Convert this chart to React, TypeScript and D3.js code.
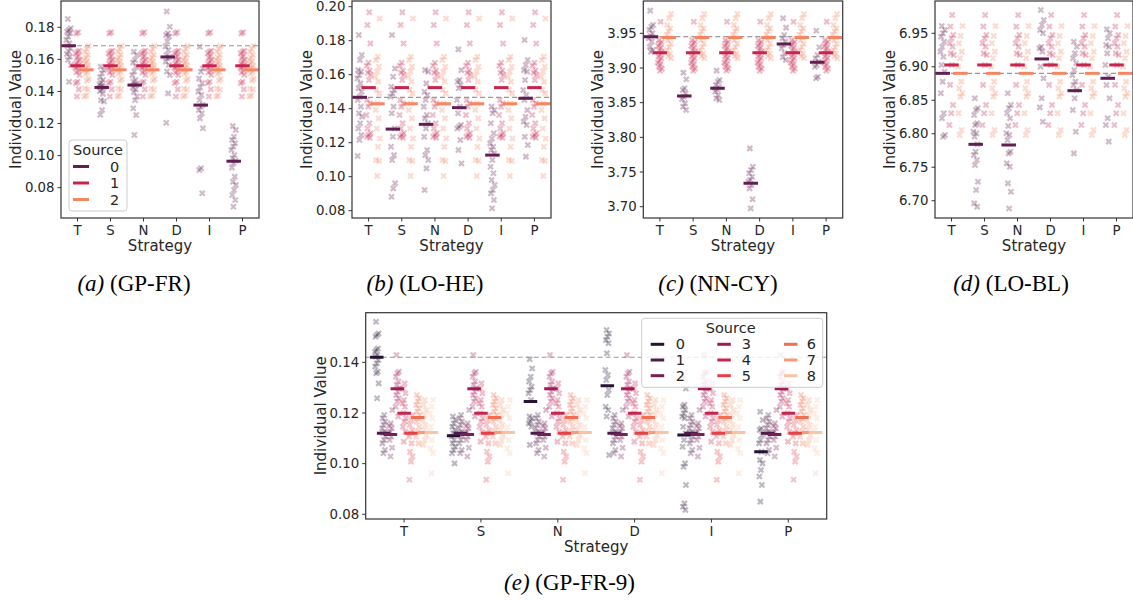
import React from "react";
import * as d3 from "d3";

const STRATEGIES = ["T", "S", "N", "D", "I", "P"];

// ---------- (a) GP-FR ----------
const gpfrSource0: number[][] = [
  [0.1852, 0.1794, 0.1783, 0.1773, 0.1763, 0.1742, 0.1721, 0.170, 0.1684, 0.1669, 0.1648, 0.1634, 0.1617, 0.1596, 0.1565, 0.1461],
  [0.1555, 0.1534, 0.1513, 0.1488, 0.1472, 0.1455, 0.1445, 0.1434, 0.1428, 0.1422, 0.1413, 0.1401, 0.1385, 0.1345, 0.1338, 0.1284, 0.1255],
  [0.1648, 0.1627, 0.1596, 0.158, 0.1555, 0.1524, 0.1502, 0.1472, 0.1461, 0.1445, 0.144, 0.1425, 0.1412, 0.1395, 0.1368, 0.1345, 0.1295, 0.1253, 0.1128],
  [0.1898, 0.1804, 0.1763, 0.1752, 0.1742, 0.1711, 0.168, 0.1659, 0.1627, 0.1615, 0.1607, 0.1586, 0.1565, 0.1524, 0.1503, 0.1388, 0.1205],
  [0.1679, 0.1544, 0.1523, 0.148, 0.1451, 0.1426, 0.1399, 0.1378, 0.1347, 0.1316, 0.1304, 0.1284, 0.1263, 0.1232, 0.117, 0.0921, 0.091, 0.0765],
  [0.1185, 0.116, 0.1118, 0.1097, 0.1077, 0.1056, 0.1035, 0.1004, 0.0983, 0.0968, 0.0952, 0.0925, 0.0869, 0.0837, 0.0817, 0.0786, 0.0754, 0.0723, 0.0681],
];
const gpfrSource1 = [0.1769, 0.1762, 0.1654, 0.1648, 0.1638, 0.1621, 0.1612, 0.1596, 0.1585, 0.1575, 0.1562, 0.1555, 0.1548, 0.153, 0.1518, 0.1503, 0.1461, 0.1452, 0.1413, 0.1368];
const gpfrSource2 = [0.1684, 0.1665, 0.1648, 0.1628, 0.1612, 0.1598, 0.1586, 0.1572, 0.156, 0.1545, 0.1535, 0.1522, 0.151, 0.1478, 0.1468, 0.1418, 0.1412, 0.1375, 0.1368];
const gpfrLine0 = [0.1685, 0.1425, 0.144, 0.1615, 0.1315, 0.0965];
const gpfrLineOthers = [0.156, 0.1535];
const gpfrReference = 0.1685;
const gpfrTicks = [0.08, 0.1, 0.12, 0.14, 0.16, 0.18];

// ---------- (b) LO-HE ----------
const loheSource0: number[][] = [
  [0.1833, 0.1716, 0.1686, 0.1627, 0.1618, 0.1598, 0.1578, 0.1549, 0.152, 0.15, 0.147, 0.1451, 0.1412, 0.1373, 0.1353, 0.1314, 0.1284, 0.1245, 0.1216, 0.1122],
  [0.1833, 0.1637, 0.1588, 0.1529, 0.151, 0.149, 0.1471, 0.1412, 0.1373, 0.1284, 0.1235, 0.1176, 0.1127, 0.1098, 0.0961, 0.0931, 0.0882],
  [0.1627, 0.1618, 0.1549, 0.15, 0.148, 0.1451, 0.1412, 0.1363, 0.1343, 0.1314, 0.1284, 0.1235, 0.1157, 0.1127, 0.1098, 0.1049, 0.0922],
  [0.1749, 0.1627, 0.1569, 0.1559, 0.1539, 0.152, 0.1451, 0.1412, 0.1373, 0.1304, 0.1294, 0.1284, 0.1216, 0.1157, 0.1078],
  [0.1412, 0.1392, 0.1373, 0.1314, 0.1255, 0.1225, 0.1196, 0.1176, 0.1157, 0.1137, 0.1098, 0.1059, 0.102, 0.098, 0.0951, 0.0922, 0.0902, 0.0863, 0.0814],
  [0.1804, 0.1686, 0.1657, 0.1627, 0.1618, 0.1569, 0.151, 0.148, 0.1451, 0.1392, 0.1353, 0.1324, 0.1304, 0.1235, 0.1186, 0.1118],
];
const loheSource1 = [0.1967, 0.1892, 0.1784, 0.167, 0.1653, 0.1625, 0.1612, 0.1598, 0.1569, 0.1451, 0.1431, 0.1412, 0.1363, 0.1314, 0.1284, 0.1255, 0.1245, 0.1235, 0.1229];
const loheSource2 = [0.1931, 0.1706, 0.1686, 0.1647, 0.1618, 0.1588, 0.1559, 0.151, 0.149, 0.1431, 0.1392, 0.1343, 0.1284, 0.1225, 0.1176, 0.1098, 0.1092, 0.1004];
const loheLine0 = [0.1467, 0.128, 0.1308, 0.1406, 0.1127, 0.1461];
const loheLineOthers = [0.1524, 0.1429];
const loheReference = 0.1467;
const loheTicks = [0.08, 0.1, 0.12, 0.14, 0.16, 0.18, 0.2];

// ---------- (c) NN-CY ----------
const nncySource0: number[][] = [
  [3.9827, 3.962, 3.9596, 3.955, 3.95, 3.9462, 3.9428, 3.938, 3.9308, 3.926, 3.9236],
  [3.8933, 3.8837, 3.8707, 3.8683, 3.8635, 3.8587, 3.855, 3.849, 3.8442, 3.8394],
  [3.8962, 3.8827, 3.8803, 3.8755, 3.8721, 3.8692, 3.8659, 3.8611, 3.8562, 3.8538],
  [3.7841, 3.7577, 3.7529, 3.7481, 3.7433, 3.7385, 3.7361, 3.7313, 3.7264, 3.7106, 3.6976],
  [3.9716, 3.9582, 3.9476, 3.9428, 3.938, 3.9332, 3.9284, 3.9212, 3.9154, 3.9115],
  [3.9538, 3.9298, 3.9188, 3.914, 3.9091, 3.9043, 3.9019, 3.8875, 3.8851],
];
const nncySource1 = [3.9668, 3.9404, 3.9375, 3.935, 3.932, 3.929, 3.926, 3.923, 3.92, 3.917, 3.914, 3.911, 3.908, 3.905, 3.902, 3.899, 3.896];
const nncySource2 = [3.9779, 3.9716, 3.962, 3.957, 3.953, 3.948, 3.944, 3.94, 3.935, 3.93, 3.926, 3.921, 3.917, 3.914];
const nncyLine0 = [3.9452, 3.8596, 3.8707, 3.7337, 3.9346, 3.9082];
const nncyLineOthers = [3.9221, 3.9438];
const nncyReference = 3.9452;
const nncyTicks = [3.7, 3.75, 3.8, 3.85, 3.9, 3.95];

// ---------- (d) LO-BL ----------
const loblSource0: number[][] = [
  [6.961, 6.955, 6.95, 6.945, 6.9375, 6.93, 6.9226, 6.9151, 6.9027, 6.8927, 6.8778, 6.8604, 6.8305, 6.823, 6.7981, 6.7956],
  [6.8529, 6.838, 6.8355, 6.828, 6.8155, 6.813, 6.8031, 6.8006, 6.7956, 6.7842, 6.7732, 6.7682, 6.7608, 6.7533, 6.7284, 6.7159, 6.696, 6.691],
  [6.8604, 6.8429, 6.838, 6.8305, 6.823, 6.8116, 6.8006, 6.7981, 6.7906, 6.7732, 6.7707, 6.7558, 6.7508, 6.7259, 6.7134, 6.6885],
  [6.9849, 6.9699, 6.9625, 6.955, 6.95, 6.93, 6.9276, 6.9226, 6.9002, 6.8828, 6.8529, 6.8394, 6.818],
  [6.9375, 6.93, 6.92, 6.9127, 6.9052, 6.8952, 6.8877, 6.8778, 6.8728, 6.8653, 6.8529, 6.8355, 6.8031, 6.7707],
  [6.956, 6.95, 6.9425, 6.9326, 6.93, 6.92, 6.9027, 6.8853, 6.8728, 6.8529, 6.823, 6.813, 6.7882],
];
const loblSource1 = [6.9774, 6.96, 6.9475, 6.9425, 6.935, 6.93, 6.92, 6.9175, 6.9027, 6.873, 6.8429, 6.8305, 6.813];
const loblSource2 = [6.961, 6.946, 6.935, 6.9226, 6.9127, 6.9002, 6.8778, 6.8678, 6.8604, 6.8554, 6.8305, 6.8056, 6.7981];
const loblLine0 = [6.8902, 6.7842, 6.7832, 6.9117, 6.8643, 6.8828];
const loblLineOthers = [6.9027, 6.8902];
const loblReference = 6.8902;
const loblTicks = [6.7, 6.75, 6.8, 6.85, 6.9, 6.95];

// ---------- (e) GP-FR-9 ----------
const gpfr9Source0: number[][] = [
  [0.156, 0.1514, 0.1508, 0.1501, 0.1455, 0.1449, 0.1442, 0.1429, 0.1422, 0.1409, 0.1396, 0.1383, 0.1363, 0.1357, 0.1317, 0.1258],
  [0.1186, 0.1172, 0.1159, 0.1146, 0.1133, 0.112, 0.1107, 0.1093, 0.108, 0.1067, 0.1054, 0.1041, 0.1001],
  [0.1412, 0.1376, 0.1343, 0.1324, 0.1304, 0.1291, 0.1278, 0.1251, 0.1186, 0.1179, 0.1166, 0.1159, 0.1146, 0.1074],
  [0.1528, 0.1514, 0.1501, 0.1488, 0.1475, 0.1436, 0.137, 0.135, 0.133, 0.1291, 0.1271, 0.1225, 0.1212, 0.1186, 0.1034],
  [0.1337, 0.1297, 0.1232, 0.1225, 0.1212, 0.1199, 0.1186, 0.1179, 0.1146, 0.112, 0.1093, 0.1067, 0.1001, 0.0988, 0.0916, 0.0843, 0.083, 0.0817],
  [0.1205, 0.1172, 0.1139, 0.1133, 0.1113, 0.1093, 0.108, 0.1047, 0.1014, 0.1001, 0.0975, 0.0949, 0.0916, 0.085],
];
const gpfr9Source1 = [0.1192, 0.1179, 0.1166, 0.1153, 0.114, 0.1126, 0.112, 0.1107, 0.1093, 0.108, 0.1054, 0.1041];
const gpfr9Source2 = [0.1212, 0.1159, 0.1149, 0.114, 0.1126, 0.112, 0.1107, 0.1093, 0.1063, 0.1028];
const gpfr9Source3 = [0.1429, 0.1363, 0.1357, 0.1343, 0.1324, 0.1311, 0.1297, 0.1284, 0.1271, 0.1258, 0.1245, 0.1225, 0.1186];
const gpfr9Source4 = [0.1317, 0.1297, 0.1278, 0.1251, 0.1238, 0.1225, 0.1199, 0.1179, 0.1166, 0.1146, 0.1126, 0.1087];
const gpfr9Source5 = [0.1192, 0.1172, 0.1153, 0.1133, 0.112, 0.1107, 0.108, 0.1047, 0.1028, 0.1008, 0.0936];
const gpfr9Source6 = [0.1271, 0.1258, 0.1245, 0.1232, 0.1219, 0.1205, 0.1192, 0.1179, 0.1166, 0.1146, 0.1126, 0.1107, 0.108];
const gpfr9Source7 = [0.1251, 0.1232, 0.1212, 0.1192, 0.1172, 0.1153, 0.1133, 0.1113, 0.1093, 0.1074];
const gpfr9Source8 = [0.1251, 0.1225, 0.1199, 0.1179, 0.1146, 0.1126, 0.1093, 0.106, 0.1041, 0.0962];
const gpfr9Line0 = [0.142, 0.111, 0.1245, 0.1308, 0.1113, 0.1047];
const gpfr9LineOthers = [0.112, 0.1115, 0.1296, 0.1199, 0.112, 0.1182, 0.1123, 0.1123];
const gpfr9Reference = 0.142;
const gpfr9Ticks = [0.08, 0.1, 0.12, 0.14];

const SOURCES3 = ["0", "1", "2"];
const SOURCES9 = ["0", "1", "2", "3", "4", "5", "6", "7", "8"];

// rocket colormap anchors
const ROCKET = ["#03051a", "#35193e", "#701f57", "#ad1759", "#e13342", "#f37651", "#f6b48f", "#faebdd"];
const rocket = d3
  .scaleLinear<string>()
  .domain(ROCKET.map((_, i) => i / (ROCKET.length - 1)))
  .range(ROCKET)
  .interpolate(d3.interpolateRgb);
const palette = (n: number) => d3.range(n).map((i) => rocket((i + 1) / (n + 1)));

const FONT = "DejaVu Sans, sans-serif";
const TEXT = "#262626";

type Layout = {
  left: number;
  right: number;
  top: number;
  bottom: number;
  domain: [number, number];
  jitter: number;
  lineLen: number;
  caption: [string, string];
  capX: number;
  capY: number;
};

type PanelProps = {
  layout: Layout;
  src0: number[][];
  others: number[][];
  line0: number[];
  lineOthers: number[];
  reference: number;
  ticks: number[];
  fmt: (v: number) => string;
  sources: string[];
  legend?: "a" | "e";
};

const markerPath = (s: number) => `M${-s},${-s}L${s},${s}M${-s},${s}L${s},${-s}`;

function Panel({ layout, src0, others, line0, lineOthers, reference, ticks, fmt, sources, legend }: PanelProps) {
  const { left, right, top, bottom, domain, jitter, lineLen } = layout;
  const colors = palette(sources.length);
  const x = d3.scaleBand<string>().domain(STRATEGIES).range([left, right]);
  const y = d3.scaleLinear().domain(domain).range([bottom, top]);
  const bw = x.bandwidth();
  const dodge = bw * 0.8;
  const n = sources.length;
  const off = (i: number) => -dodge / 2 + (dodge / n) * (i + 0.5);
  const cx = (s: string) => (x(s) as number) + bw / 2;
  const jit = (k: number) => (((k * 0.6180339887 + 0.31) % 1) - 0.5) * 2 * jitter;

  const points: JSX.Element[] = [];
  const lines: JSX.Element[] = [];
  STRATEGIES.forEach((s, si) => {
    sources.forEach((_, i) => {
      const vals = i === 0 ? src0[si] : others[i - 1];
      const xc = cx(s) + off(i);
      vals.forEach((v, k) => {
        points.push(
          <path
            key={`p-${si}-${i}-${k}`}
            d={markerPath(2.5)}
            transform={`translate(${xc + jit(k + i * 7)},${y(v)})`}
            stroke={colors[i]}
            strokeWidth={2.2}
            strokeOpacity={0.3}
            fill="none"
          />
        );
      });
      const lv = i === 0 ? line0[si] : lineOthers[i - 1];
      lines.push(
        <line
          key={`l-${si}-${i}`}
          x1={xc - lineLen / 2}
          x2={xc + lineLen / 2}
          y1={y(lv)}
          y2={y(lv)}
          stroke={colors[i]}
          strokeWidth={3}
        />
      );
    });
  });

  const midY = (top + bottom) / 2;
  return (
    <g>
      <defs>
        <clipPath id={`clip-${Math.round(left)}`}>
          <rect x={left} y={top} width={right - left} height={bottom - top} />
        </clipPath>
      </defs>
      <g clipPath={`url(#clip-${Math.round(left)})`}>
        {points}
        <line x1={left} x2={right} y1={y(reference)} y2={y(reference)} stroke="#999" strokeWidth={1.2} strokeDasharray="5,3" />
        {lines}
      </g>
      <rect x={left} y={top} width={right - left} height={bottom - top} fill="none" stroke="#333" strokeWidth={1.2} />
      {ticks.map((t) => (
        <g key={`yt-${t}`}>
          <line x1={left - 3.5} x2={left} y1={y(t)} y2={y(t)} stroke="#333" strokeWidth={1} />
          <text x={left - 6.5} y={y(t) + 4.7} textAnchor="end" fontFamily={FONT} fontSize={13.3} fill={TEXT}>
            {fmt(t)}
          </text>
        </g>
      ))}
      {STRATEGIES.map((s) => (
        <g key={`xt-${s}`}>
          <line x1={cx(s)} x2={cx(s)} y1={bottom} y2={bottom + 3.5} stroke="#333" strokeWidth={1} />
          <text x={cx(s)} y={bottom + 17} textAnchor="middle" fontFamily={FONT} fontSize={13.3} fill={TEXT}>
            {s}
          </text>
        </g>
      ))}
      <text x={(left + right) / 2} y={bottom + 33} textAnchor="middle" fontFamily={FONT} fontSize={15} fill={TEXT}>
        Strategy
      </text>
      <text
        transform={`translate(${left - 40},${midY}) rotate(-90)`}
        textAnchor="middle"
        fontFamily={FONT}
        fontSize={15}
        fill={TEXT}
      >
        Individual Value
      </text>
      {legend === "a" && (
        <g>
          <rect x={69} y={140} width={58} height={71} rx={3} fill="#fff" fillOpacity={0.8} stroke="#ccc" />
          <text x={98} y={154.5} textAnchor="middle" fontFamily={FONT} fontSize={14.5} fill={TEXT}>
            Source
          </text>
          {sources.map((src, i) => {
            const cy = 166.5 + i * 16.5;
            return (
              <g key={`lg-${src}`}>
                <line x1={73} x2={89} y1={cy} y2={cy} stroke={colors[i]} strokeWidth={3} />
                <text x={110} y={cy + 5.2} fontFamily={FONT} fontSize={14.5} fill={TEXT}>
                  {src}
                </text>
              </g>
            );
          })}
        </g>
      )}
      {legend === "e" && (
        <g>
          <rect x={641.7} y={318.3} width={181} height={69} rx={3} fill="#fff" fillOpacity={0.8} stroke="#ccc" />
          <text x={730.7} y={332.5} textAnchor="middle" fontFamily={FONT} fontSize={14.5} fill={TEXT}>
            Source
          </text>
          {sources.map((src, i) => {
            const col = Math.floor(i / 3);
            const row = i % 3;
            const hx = [650.7, 717.3, 784][col];
            const tx = [675.7, 741.7, 806.7][col];
            const cy = 344.3 + row * 15.7;
            return (
              <g key={`lg-${src}`}>
                <line x1={hx} x2={hx + 13.5} y1={cy} y2={cy} stroke={colors[i]} strokeWidth={3} />
                <text x={tx} y={cy + 5} fontFamily={FONT} fontSize={14.5} fill={TEXT}>
                  {src}
                </text>
              </g>
            );
          })}
        </g>
      )}
      <text x={layout.capX} y={layout.capY} textAnchor="middle" fontFamily="Liberation Serif, Times New Roman, serif" fontSize={23} fill="#000">
        <tspan fontStyle="italic">{layout.caption[0]}</tspan>
        <tspan>{" " + layout.caption[1]}</tspan>
      </text>
    </g>
  );
}

const f2 = d3.format(".2f");

export default function App() {
  return (
    <svg width={1133} height={601} style={{ position: "absolute", left: 0, top: 0, background: "#fff" }}>
      <rect width={1133} height={601} fill="#fff" />
      <Panel
        layout={{ left: 61, right: 259, top: 1, bottom: 218, domain: [0.0611, 0.1964], jitter: 2.4, lineLen: 14.5, caption: ["(a)", "(GP-FR)"], capX: 134, capY: 291 }}
        src0={gpfrSource0}
        others={[gpfrSource1, gpfrSource2]}
        line0={gpfrLine0}
        lineOthers={gpfrLineOthers}
        reference={gpfrReference}
        ticks={gpfrTicks}
        fmt={f2}
        sources={SOURCES3}
        legend="a"
      />
      <Panel
        layout={{ left: 352, right: 551, top: 1, bottom: 218, domain: [0.0757, 0.20335], jitter: 2.4, lineLen: 14.5, caption: ["(b)", "(LO-HE)"], capX: 425, capY: 291 }}
        src0={loheSource0}
        others={[loheSource1, loheSource2]}
        line0={loheLine0}
        lineOthers={loheLineOthers}
        reference={loheReference}
        ticks={loheTicks}
        fmt={f2}
        sources={SOURCES3}
      />
      <Panel
        layout={{ left: 643.3, right: 842.7, top: 1, bottom: 218, domain: [3.6837, 3.9966], jitter: 2.4, lineLen: 14.5, caption: ["(c)", "(NN-CY)"], capX: 718, capY: 291 }}
        src0={nncySource0}
        others={[nncySource1, nncySource2]}
        line0={nncyLine0}
        lineOthers={nncyLineOthers}
        reference={nncyReference}
        ticks={nncyTicks}
        fmt={f2}
        sources={SOURCES3}
      />
      <Panel
        layout={{ left: 935, right: 1133, top: 1, bottom: 218, domain: [6.6742, 6.9982], jitter: 2.4, lineLen: 14.5, caption: ["(d)", "(LO-BL)"], capX: 1011, capY: 291 }}
        src0={loblSource0}
        others={[loblSource1, loblSource2]}
        line0={loblLine0}
        lineOthers={loblLineOthers}
        reference={loblReference}
        ticks={loblTicks}
        fmt={f2}
        sources={SOURCES3}
      />
      <Panel
        layout={{ left: 365.7, right: 826.7, top: 312.7, bottom: 519, domain: [0.07814, 0.1596], jitter: 2, lineLen: 13.5, caption: ["(e)", "(GP-FR-9)"], capX: 569.5, capY: 590 }}
        src0={gpfr9Source0}
        others={[gpfr9Source1, gpfr9Source2, gpfr9Source3, gpfr9Source4, gpfr9Source5, gpfr9Source6, gpfr9Source7, gpfr9Source8]}
        line0={gpfr9Line0}
        lineOthers={gpfr9LineOthers}
        reference={gpfr9Reference}
        ticks={gpfr9Ticks}
        fmt={f2}
        sources={SOURCES9}
        legend="e"
      />
    </svg>
  );
}
